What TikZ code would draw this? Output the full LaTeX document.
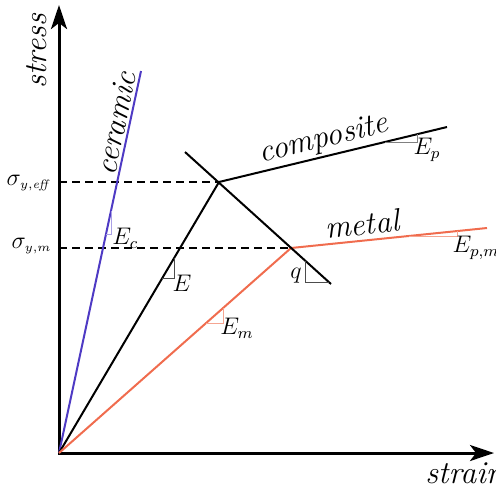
\documentclass[tikz,border=0pt]{standalone}
\usepackage{tikz}
\usetikzlibrary{arrows.meta}
\definecolor{cerblue}{RGB}{78,58,196}
\definecolor{metred}{RGB}{240,108,78}
\definecolor{cerlite}{RGB}{170,160,230}
\definecolor{metlite}{RGB}{245,165,145}

\begin{document}
\begin{tikzpicture}[x=0.5pt,y=-0.5pt,
  axis/.style={line width=1.5pt,{Stealth[length=12pt,width=8pt,inset=3pt]}-{Stealth[length=12pt,width=8pt,inset=3pt]}},
  curve/.style={line width=1pt},
  yieldline/.style={line width=0.75pt,dash pattern=on 4pt off 2.5pt},
  slopetri/.style={line width=0.5pt},
  biglbl/.style={font=\fontsize{16}{19}\selectfont\itshape,inner sep=0pt},
  ylbl/.style={font=\fontsize{13}{15}\selectfont,inner sep=0pt},
  slbl/.style={font=\fontsize{11.5}{13}\selectfont,inner sep=0pt}]
\useasboundingbox (0,0) rectangle (496,488);
% key points
\coordinate (O) at (59,453);
\coordinate (ytip) at (59,5);
\coordinate (xtip) at (494,453);
\coordinate (cer) at (141,71);
\coordinate (yc) at (219,182);
\coordinate (cend) at (447,127);
\coordinate (ym) at (291,248);
\coordinate (mend) at (487,228);
\coordinate (qa) at (185,152);
\coordinate (qb) at (331,284);
\coordinate (eff) at (59,182);
\coordinate (sym) at (59,248);
% yield levels
\draw[yieldline] (eff) -- (yc);
\draw[yieldline] (sym) -- (ym);
% axes
\draw[axis] (ytip) -- (O) -- (xtip);
\node[biglbl,rotate=90] (lb_stress) at (37,51) {stress};
\node[biglbl,anchor=base west] (lb_strain) at (425,483) {strain};
\node[ylbl,anchor=east] (lb_eff) at (52,183) {$\sigma_{\scriptscriptstyle y,\mathit{eff}}$};
\node[ylbl,anchor=east] (lb_ym) at (52,246) {$\sigma_{\scriptscriptstyle y,m}$};
% curves
\draw[curve,cerblue] (O) -- (cer);
\draw[curve] (O) -- (yc) -- (cend);
\draw[curve,metred] (O) -- (ym) -- (mend);
\draw[curve] (qa) -- (qb);
\node[biglbl,rotate=78] (lb_cer) at (116,123) {ceramic};
\node[biglbl,rotate=13.6] (lb_comp) at (324,140) {composite};
\node[biglbl,rotate=6] (lb_met) at (362,224) {metal};
% slope triangles
\draw[slopetri,cerlite] (106,234) -- (111,234) -- (111,211);
\draw[slopetri,black!70] (162.3,278) -- (174,278) -- (174,258.2);
\draw[slopetri,metlite] (206.1,323) -- (223,323) -- (223,308.1);
\draw[slopetri,black!70] (305,260.5) -- (305,282) -- (328.8,282);
\draw[slopetri,black!50] (384.8,142) -- (417,142) -- (417,134.2);
\draw[slopetri,metlite] (408.6,236) -- (457,236) -- (457,231.1);
\node[slbl,anchor=west] (lb_ec) at (112,238) {$E_c$};
\node[slbl] (lb_e) at (182,283) {$E$};
\node[slbl] (lb_em) at (237,328) {$E_m$};
\node[slbl] (lb_q) at (296,276) {$q$};
\node[slbl] (lb_ep) at (427,150) {$E_p$};
\node[slbl] (lb_epm) at (476,248) {$E_{p,m}$};
\end{tikzpicture}
\end{document}
